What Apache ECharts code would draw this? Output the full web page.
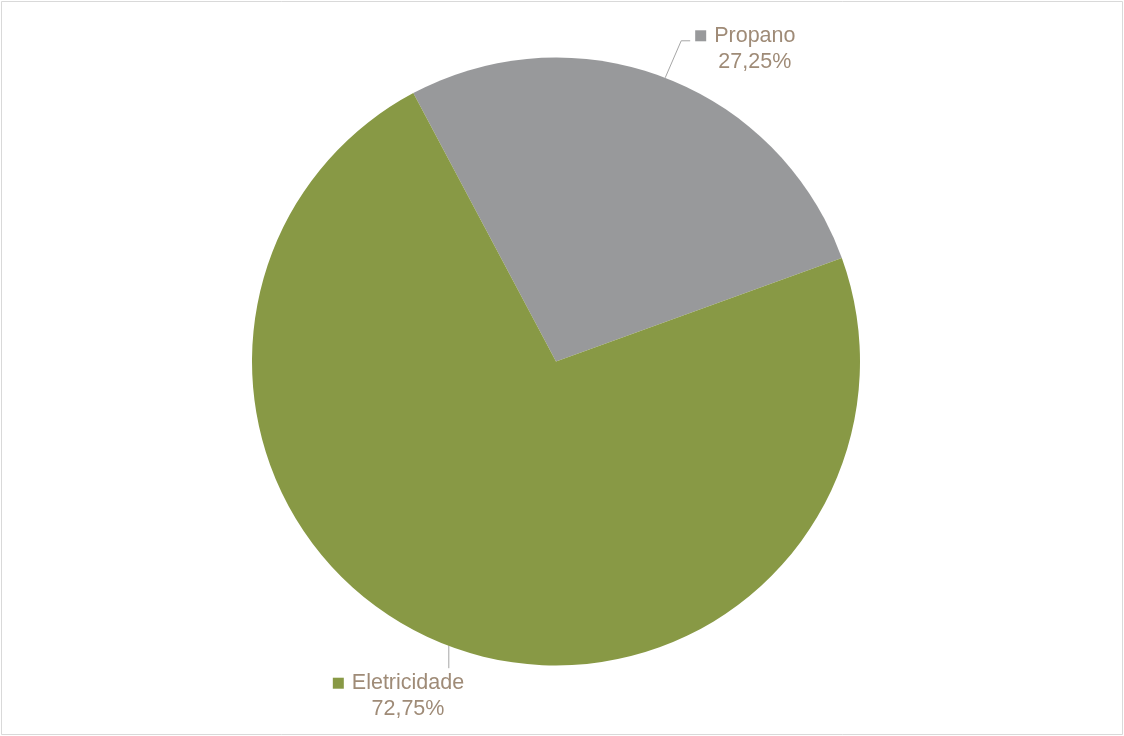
<!DOCTYPE html>
<html>
<head>
<meta charset="utf-8">
<script src="https://cdn.jsdelivr.net/npm/echarts@6/dist/echarts.min.js"></script>
<style>
html,body{margin:0;padding:0;background:#fff;}
#chart{width:1124px;height:736px;}
</style>
</head>
<body>
<div id="chart"></div>
<script>
const categories = ['Propano', 'Eletricidade'];
const values = [27.25, 72.75];
const colors = ['#98999b', '#889945'];

const textColor = '#9f8b77';
const chart = echarts.init(document.getElementById('chart'), null, {renderer: 'canvas'});

const data = categories.map((c, i) => ({
  name: c,
  value: values[i],
  itemStyle: {color: colors[i]},
  label: {
    rich: {
      m: {width: 11, height: 11, backgroundColor: colors[i], align: 'center'},
      t: {fontSize: 21.5, fontFamily: 'Liberation Sans, Arial, sans-serif', color: textColor, padding: [0, 19, 0, 8], lineHeight: 26, align: 'center'},
      v: {fontSize: 21.5, fontFamily: 'Liberation Sans, Arial, sans-serif', color: textColor, lineHeight: 26, align: 'center'}
    }
  }
}));

chart.setOption({
  animation: false,
  backgroundColor: '#ffffff',
  graphic: [{
    type: 'rect', silent: true, z: -1,
    shape: {x: 1.5, y: 1.5, width: 1121, height: 733},
    style: {fill: 'none', stroke: '#d9d9d9', lineWidth: 1}
  }],
  series: [{
    type: 'pie',
    center: [556, 361.5],
    radius: 304,
    startAngle: 118,
    clockwise: true,
    avoidLabelOverlap: false,
    emphasis: {disabled: true},
    data: data,
    label: {
      show: true,
      position: 'outside',
      formatter: p => '{m|}{t|' + p.name + '}\n{v|' + p.value.toFixed(2).replace('.', ',') + '%}',
      lineHeight: 26
    },
    labelLine: {
      show: true,
      length: 30,
      length2: 10,
      lineStyle: {color: '#a6a6a6', width: 1}
    },
    labelLayout: function (params) {
      const p0 = params.labelLinePoints[0];
      if (params.dataIndex === 0) {
        const p1 = [p0[0] + 16, p0[1] - 37];
        const p2 = [p1[0] + 9, p1[1]];
        return {
          x: p2[0] + 5, y: p1[1] - 18,
          align: 'left', verticalAlign: 'top',
          labelLinePoints: [p0, p1, p2]
        };
      } else {
        const p1 = [p0[0] + 2, p0[1] + 23];
        return {
          x: p0[0] - 114, y: p0[1] + 25,
          align: 'left', verticalAlign: 'top',
          labelLinePoints: [[p0[0] + 2, p0[1]], p1, p1]
        };
      }
    }
  }]
});
</script>
</body>
</html>
